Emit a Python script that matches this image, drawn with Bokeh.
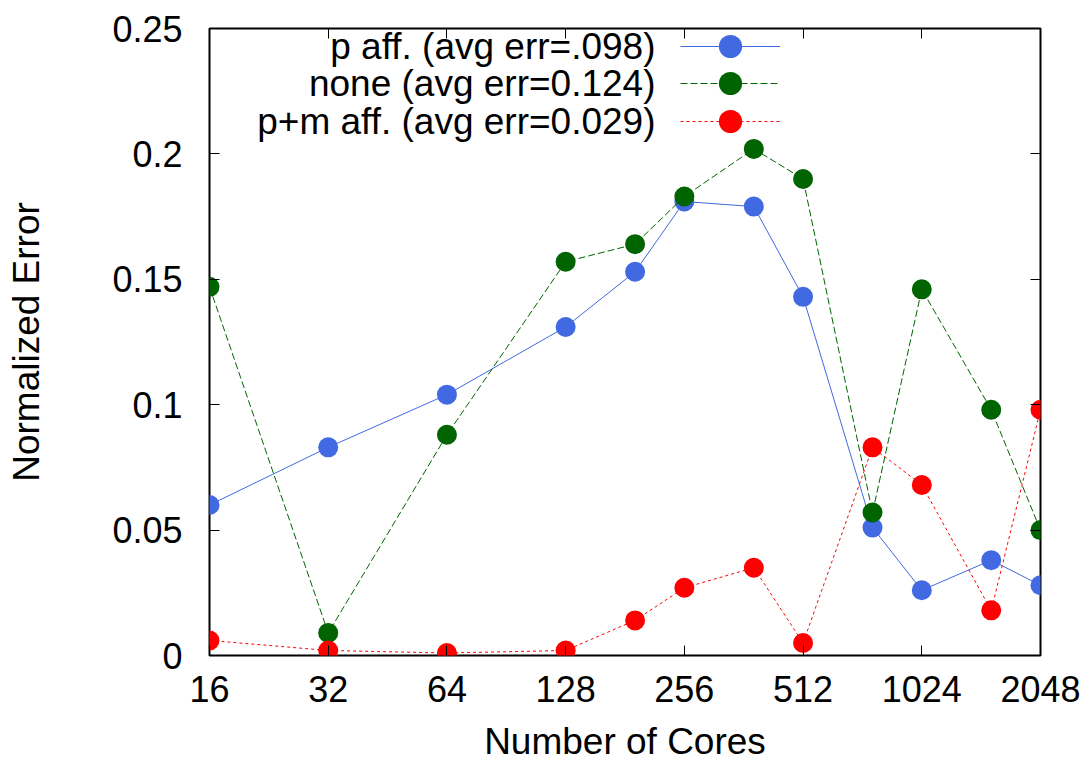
from bokeh.plotting import figure
from bokeh.models import LogAxis, LinearAxis, FixedTicker, Range1d, Label, Legend, LegendItem
from bokeh.core.properties import value
from bokeh.embed import file_html
from bokeh.resources import INLINE

# ---------------- data ----------------
cores = [16, 32, 64, 128, 192, 256, 384, 512, 768, 1024, 1536, 2048]
p_aff = [0.060, 0.083, 0.104, 0.131, 0.153, 0.181, 0.179, 0.143, 0.051, 0.026, 0.038, 0.028]
none_aff = [0.147, 0.009, 0.088, 0.157, 0.164, 0.183, 0.202, 0.190, 0.057, 0.146, 0.098, 0.050]
pm_aff = [0.006, 0.002, 0.001, 0.002, 0.014, 0.027, 0.035, 0.005, 0.083, 0.068, 0.018, 0.098]

series_names = ["p aff. (avg err=.098)", "none (avg err=0.124)", "p+m aff. (avg err=0.029)"]
x_ticks = [16, 32, 64, 128, 256, 512, 1024, 2048]
x_tick_labels = ["16", "32", "64", "128", "256", "512", "1024", "2048"]
y_ticks = [0, 0.05, 0.1, 0.15, 0.2, 0.25]
y_tick_labels = ["0", "0.05", "0.1", "0.15", "0.2", "0.25"]

# ---------------- styles ----------------
FONT = "Liberation Sans"
colors = ["#4169E1", "#006400", "#FF0000"]
dashes = ["solid", "7 3", "3 3"]

p = figure(width=1090, height=765, x_axis_type="log",
           x_range=Range1d(16, 2048), y_range=Range1d(0, 0.25),
           output_backend="svg", toolbar_location=None,
           min_border_left=209, min_border_right=50,
           min_border_top=28, min_border_bottom=110)
p.grid.visible = False
p.outline_line_color = "black"
p.outline_line_width = 2
p.background_fill_color = "white"
p.border_fill_color = "white"


def style_axis(ax, show_labels):
    ax.axis_line_color = None
    ax.major_tick_in = 10
    ax.major_tick_out = 0
    ax.major_tick_line_color = "black"
    ax.major_tick_line_width = 1
    ax.minor_tick_line_color = None
    ax.major_label_text_font = FONT
    if show_labels:
        ax.major_label_text_font_size = "36px"
        ax.major_label_text_color = "black"
    else:
        ax.major_label_text_font_size = "10px"
        ax.major_label_text_color = None
        ax.major_label_standoff = 0
    ax.axis_label_text_font = FONT
    ax.axis_label_text_font_size = "37px"
    ax.axis_label_text_font_style = "normal"
    ax.axis_label_text_color = "black"


xa = p.xaxis[0]
xa.ticker = FixedTicker(ticks=x_ticks)
xa.major_label_overrides = dict(zip(x_ticks, x_tick_labels))
style_axis(xa, True)
xa.major_label_standoff = 20
xa.axis_label = "Number of Cores"
xa.axis_label_standoff = 16

ya = p.yaxis[0]
ya.ticker = FixedTicker(ticks=y_ticks)
ya.major_label_overrides = dict(zip(y_ticks, y_tick_labels))
style_axis(ya, True)
ya.major_label_standoff = 27
ya.axis_label = "Normalized Error"
ya.axis_label_standoff = 62

top = LogAxis(ticker=FixedTicker(ticks=x_ticks))
style_axis(top, False)
p.add_layout(top, "above")

right = LinearAxis(ticker=FixedTicker(ticks=y_ticks))
style_axis(right, False)
p.add_layout(right, "right")

# ---------------- series ----------------
renderers = []
for ys, c, d in zip([p_aff, none_aff, pm_aff], colors, dashes):
    rl = p.line(cores, ys, line_color=c, line_width=1, line_dash=d)
    rs = p.scatter(cores, ys, size=20, fill_color=c, line_color=c, line_width=0)
    renderers.append([rl, rs])

# ---------------- key (gnuplot style: text left, sample right) ----------------
FRAME_H = 627
ROW_CENTERS = [18, 55, 93]   # px below frame top
GLYPH_H = 58
SAMPLE_X = 471
TEXT_RIGHT = 446

for rs, name, rc in zip(renderers, series_names, ROW_CENTERS):
    lg = Legend(items=[LegendItem(label=value(""), renderers=rs)],
                location=(SAMPLE_X, FRAME_H - rc - GLYPH_H / 2),
                glyph_width=100, glyph_height=GLYPH_H, spacing=0,
                padding=0, margin=0, label_width=0, label_standoff=0,
                label_height=0, label_text_font_size="10px",
                label_text_color=None,
                border_line_color=None, background_fill_alpha=0)
    p.add_layout(lg)
    p.add_layout(Label(x=TEXT_RIGHT, y=FRAME_H - rc, x_units="screen", y_units="screen",
                       text=name, text_align="right", text_baseline="middle",
                       text_font=FONT, text_font_size="37px", text_color="black"))

open("out.html", "w").write(file_html(p, INLINE))
